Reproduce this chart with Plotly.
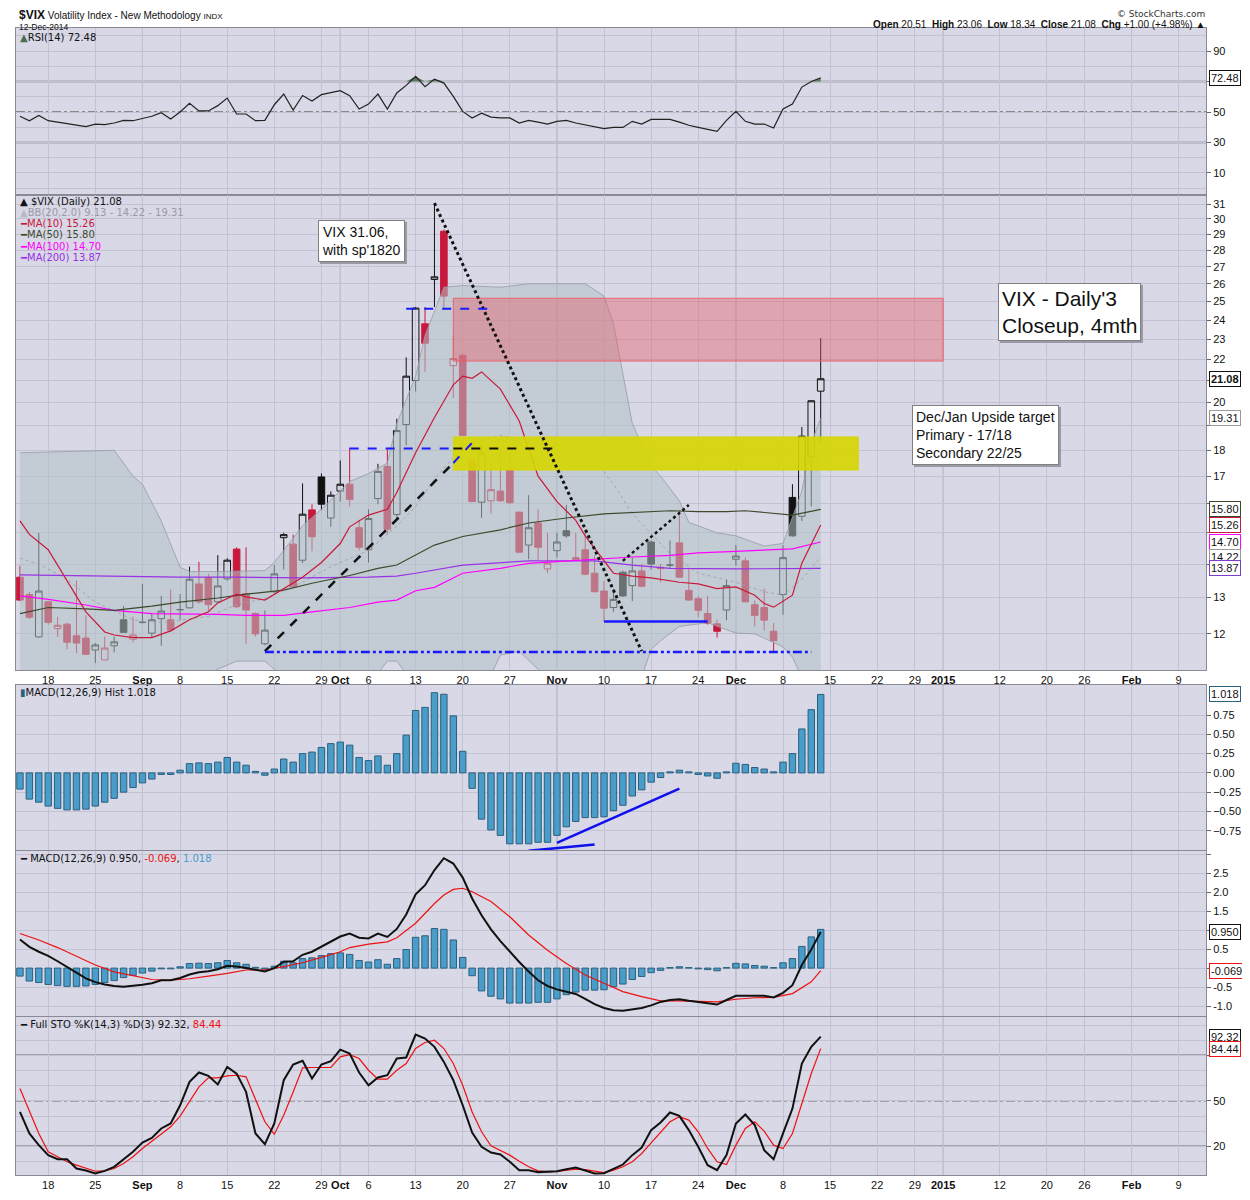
import math
import pandas as pd
import plotly.graph_objects as go

# ---- trading calendar (category axis) ----
holidays = ["2014-09-01", "2014-11-27", "2014-12-25", "2015-01-01", "2015-01-19"]
days = [d.strftime("%Y-%m-%d") for d in pd.bdate_range("2014-08-13", "2015-02-13")
        if d.strftime("%Y-%m-%d") not in holidays]

tick_days = ["2014-08-18", "2014-08-25", "2014-09-02", "2014-09-08", "2014-09-15", "2014-09-22",
             "2014-09-29", "2014-10-01", "2014-10-06", "2014-10-13", "2014-10-20", "2014-10-27",
             "2014-11-03", "2014-11-10", "2014-11-17", "2014-11-24", "2014-12-01", "2014-12-08",
             "2014-12-15", "2014-12-22", "2014-12-29", "2015-01-02", "2015-01-12", "2015-01-20",
             "2015-01-26", "2015-02-02", "2015-02-09"]
tick_text = ["18", "25", "<b>Sep</b>", "8", "15", "22", "29", "<b>Oct</b>", "6", "13", "20", "27",
             "<b>Nov</b>", "10", "17", "24", "<b>Dec</b>", "8", "15", "22", "29", "<b>2015</b>",
             "12", "20", "26", "<b>Feb</b>", "9"]
month_days = ["2014-09-02", "2014-10-01", "2014-11-03", "2014-12-01", "2015-01-02", "2015-02-02"]

# ---- daily candles, Aug 13 - Dec 12 2014 ----
opens = [13.60, 13.09, 11.92, 12.88, 12.14, 12.26, 11.95, 11.89, 11.58, 11.33,
         11.69, 12.38, 11.86, 12.31, 12.02, 12.41, 12.38, 12.66, 12.71, 13.40,
         13.59, 12.88, 13.55, 14.47, 13.12, 12.55, 11.74, 13.17, 14.84, 14.63,
         14.12, 15.78, 16.97, 15.50, 16.45, 16.70, 15.17, 14.45, 16.18, 17.37,
         15.62, 19.05, 21.00, 23.80, 26.25, 29.20, 21.70, 22.20, 17.60, 16.05,
         16.10, 16.45, 17.25, 15.70, 14.60, 15.33, 13.85, 14.42, 15.07, 14.20,
         14.45, 13.72, 13.19, 12.72, 13.75, 13.35, 13.79, 14.70, 13.90, 13.97,
         14.67, 13.21, 12.97, 12.55, 12.27, 12.65, 14.15, 14.10, 12.80, 12.72,
         12.07, 13.09, 16.22, 15.56, 17.75, 20.51]
highs = [13.95, 13.17, 15.00, 12.90, 12.46, 12.30, 13.50, 12.50, 11.76, 11.93,
         11.93, 12.76, 12.47, 13.40, 12.55, 13.05, 13.24, 13.10, 13.92, 14.07,
         13.70, 14.28, 14.18, 14.53, 14.53, 12.58, 12.64, 13.97, 15.00, 14.94,
         16.73, 15.98, 17.10, 16.44, 17.60, 18.10, 15.44, 15.80, 17.47, 18.04,
         19.30, 22.10, 24.70, 24.70, 31.06, 29.30, 23.20, 22.25, 17.65, 18.50,
         17.47, 18.04, 17.90, 15.72, 16.30, 15.80, 15.00, 15.00, 15.95, 15.00,
         15.12, 14.27, 13.49, 13.26, 13.80, 14.20, 14.00, 14.75, 14.00, 14.75,
         15.77, 13.85, 13.05, 13.05, 12.38, 13.52, 14.60, 14.20, 12.92, 13.26,
         12.29, 14.60, 16.70, 18.95, 20.10, 23.06]
lows = [12.90, 12.40, 11.90, 12.25, 11.92, 11.60, 11.50, 11.47, 11.25, 11.33,
        11.52, 12.04, 11.78, 12.28, 11.90, 11.69, 12.05, 12.38, 12.69, 12.83,
        12.64, 12.85, 13.50, 12.70, 11.74, 11.93, 11.70, 13.13, 13.83, 13.28,
        14.03, 14.40, 15.76, 15.20, 16.07, 15.90, 14.43, 14.05, 15.98, 14.94,
        15.43, 18.20, 20.50, 21.40, 24.70, 24.60, 20.20, 18.60, 16.07, 15.50,
        15.65, 16.07, 16.00, 14.37, 14.15, 14.10, 13.72, 14.20, 14.84, 14.10,
        13.66, 13.15, 12.33, 12.60, 13.02, 12.90, 13.30, 13.83, 13.45, 13.88,
        13.57, 12.92, 12.45, 12.25, 11.90, 12.37, 13.95, 12.88, 12.20, 12.09,
        11.53, 12.52, 14.87, 15.40, 15.90, 18.34]
closes = [12.93, 12.45, 13.19, 12.31, 12.23, 11.78, 11.76, 11.47, 11.71, 11.63,
          11.79, 12.04, 11.97, 12.31, 12.38, 12.62, 12.10, 12.66, 13.54, 12.88,
          12.80, 13.34, 14.12, 12.74, 12.65, 12.00, 12.10, 13.70, 14.94, 13.31,
          15.63, 14.87, 15.98, 16.30, 16.70, 16.15, 14.53, 15.48, 17.18, 15.12,
          18.80, 21.20, 24.64, 22.80, 26.40, 25.30, 22.04, 18.60, 16.07, 17.90,
          16.50, 16.10, 16.03, 14.37, 15.17, 14.53, 14.03, 14.70, 14.90, 14.15,
          13.69, 13.17, 12.70, 12.95, 13.05, 13.79, 13.33, 14.00, 13.86, 13.97,
          13.60, 12.93, 12.64, 12.29, 12.07, 13.35, 14.25, 12.88, 12.50, 12.37,
          11.82, 14.20, 14.90, 18.57, 20.08, 21.08]

# ---- overlays (read at sparse day indices) ----
ma10_at = [0, 1, 3, 5, 7, 9, 10, 12, 14, 16, 18, 20, 21, 23, 24, 26, 28, 30, 32, 34, 35, 37, 39, 40,
           42, 44, 46, 47, 48, 49, 51, 53, 54, 55, 57, 59, 60, 62, 63, 65, 67, 70, 72, 74, 76, 78,
           79, 80, 82, 83, 85]
ma10 = [15.4, 14.95, 14.45, 13.5, 12.6, 12.05, 11.97, 11.9, 11.9, 12.08, 12.38, 12.6, 12.85, 13.1,
        13.02, 12.93, 13.26, 13.6, 14.05, 14.65, 15.2, 15.6, 15.8, 16.4, 17.9, 19.35, 20.8, 21.2,
        21.1, 21.4, 20.6, 19.2, 18.05, 17.0, 16.07, 15.42, 14.9, 14.12, 13.72, 13.63, 13.58, 13.45,
        13.4, 13.26, 13.31, 13.07, 12.83, 12.73, 13.07, 14.03, 15.26]
ma50_at = [0, 3, 7, 10, 14, 17, 21, 24, 28, 31, 35, 38, 40, 42, 44, 47, 51, 54, 58, 62, 65, 69, 72,
           75, 77, 79, 82, 85]
ma50 = [12.55, 12.72, 12.68, 12.64, 12.76, 12.87, 12.99, 13.1, 13.22, 13.42, 13.65, 13.87, 13.97,
        14.27, 14.6, 14.88, 15.1, 15.33, 15.5, 15.64, 15.69, 15.75, 15.72, 15.72, 15.75, 15.68, 15.6,
        15.8]
ma100_at = [0, 3, 7, 10, 14, 17, 21, 24, 28, 31, 35, 38, 40, 42, 44, 47, 51, 54, 58, 62, 65, 69, 72,
            76, 79, 82, 85]
ma100 = [13.05, 12.95, 12.79, 12.64, 12.55, 12.55, 12.53, 12.5, 12.5, 12.6, 12.72, 12.87, 12.93,
         13.2, 13.3, 13.72, 13.87, 14.02, 14.1, 14.17, 14.22, 14.27, 14.35, 14.4, 14.43, 14.48, 14.7]
ma200_at = [0, 9, 17, 23, 30, 37, 40, 42, 47, 54, 61, 65, 69, 76, 85]
ma200 = [13.67, 13.63, 13.6, 13.6, 13.58, 13.6, 13.63, 13.72, 13.97, 14.1, 14.1, 13.97, 13.87,
         13.85, 13.87]
bb_up_at = [0, 5, 10, 12, 13, 15, 17, 18, 21, 26, 27, 28, 30, 32, 35, 37, 39, 40, 42, 43, 45, 47,
            51, 54, 60, 62, 63, 65, 67, 68, 70, 71, 74, 76, 79, 81, 83, 84, 85]
bb_up = [17.9, 17.95, 18.0, 17.0, 16.7, 15.4, 13.9, 13.77, 13.77, 13.8, 14.05, 14.43, 15.23, 15.8,
         16.8, 17.1, 17.5, 19.1, 21.2, 23.2, 25.8, 25.9, 25.8, 26.0, 26.0, 25.3, 23.8, 19.1, 17.4,
         17.0, 16.1, 15.35, 15.0, 14.9, 14.57, 14.65, 16.45, 18.3, 19.31]
bb_mid_at = [0, 2, 5, 8, 12, 15, 20, 23, 26, 30, 33, 37, 40, 42, 44, 46, 48, 51, 54, 58, 61, 63, 65,
             69, 72, 76, 79, 81, 83, 85]
bb_mid = [14.18, 14.0, 13.54, 12.87, 12.38, 12.3, 12.47, 12.8, 12.97, 13.45, 13.92, 14.43, 15.23,
          15.9, 16.9, 17.7, 18.3, 18.6, 18.4, 18.2, 17.6, 16.7, 15.65, 14.33, 13.72, 13.45, 13.17,
          13.07, 13.54, 14.22]
bb_lo_at = [0, 10, 20, 23, 26, 28, 32, 36, 38, 39, 40, 41, 43, 46, 49, 51, 53, 55, 58, 62, 66, 67,
            68, 70, 73, 74, 76, 78, 81, 82, 83, 85]
bb_lo = [10.6, 10.7, 11.0, 11.3, 11.3, 10.9, 10.5, 10.7, 11.0, 11.3, 11.3, 11.0, 10.0, 8.5, 10.5,
         11.45, 11.55, 11.1, 10.3, 10.0, 10.9, 11.6, 11.82, 12.2, 12.3, 12.2, 12.02, 12.0, 11.66,
         11.4, 10.9, 9.13]

# ---- indicators ----
rsi = [47.2, 44.3, 47.8, 44.3, 43.4, 42.4, 41.5, 40.4, 42.1, 41.7, 42.8, 44.5, 44.3, 45.8, 47.2,
       49.6, 45.4, 50.0, 55.7, 50.7, 50.7, 54.2, 59.2, 48.7, 48.7, 44.3, 44.5, 54.8, 61.8, 51.3,
       60.9, 57.2, 61.4, 62.7, 64.0, 60.7, 52.0, 55.2, 61.8, 52.0, 62.5, 67.5, 73.4, 66.6, 71.6,
       69.0, 60.3, 50.4, 46.1, 49.3, 46.7, 46.1, 46.1, 42.8, 44.5, 43.4, 42.1, 43.9, 44.5, 42.8,
       41.7, 40.4, 39.1, 39.9, 39.9, 43.9, 42.1, 45.2, 45.0, 45.2, 43.4, 41.3, 39.9, 38.4, 37.3,
       44.5, 50.4, 43.9, 42.1, 42.1, 39.5, 52.0, 55.2, 66.4, 70.1, 72.48]
macd_hist = [-0.21, -0.34, -0.38, -0.43, -0.46, -0.48, -0.48, -0.47, -0.43, -0.38, -0.33, -0.25,
             -0.19, -0.13, -0.08, -0.02, -0.02, 0.035, 0.12, 0.13, 0.12, 0.14, 0.20, 0.14, 0.10,
             0.02, -0.03, 0.05, 0.18, 0.14, 0.25, 0.27, 0.33, 0.38, 0.40, 0.36, 0.20, 0.16, 0.22,
             0.10, 0.25, 0.49, 0.81, 0.85, 1.04, 1.02, 0.74, 0.28, -0.20, -0.60, -0.74, -0.81,
             -0.92, -0.92, -0.92, -0.90, -0.90, -0.81, -0.70, -0.63, -0.58, -0.58, -0.57, -0.49,
             -0.42, -0.30, -0.22, -0.12, -0.06, 0.013, 0.035, 0.013, -0.02, -0.04, -0.07, 0.013,
             0.125, 0.11, 0.07, 0.05, 0.013, 0.14, 0.25, 0.57, 0.82, 1.018]
macd_line = [0.75, 0.56, 0.43, 0.32, 0.18, 0.04, -0.12, -0.27, -0.37, -0.43, -0.47, -0.49, -0.47,
             -0.44, -0.40, -0.32, -0.32, -0.26, -0.17, -0.11, -0.08, -0.03, 0.06, 0.04, 0.0,
             -0.04, -0.09, 0.0, 0.17, 0.18, 0.35, 0.43, 0.56, 0.68, 0.83, 0.91, 0.80, 0.78, 0.91,
             0.82, 1.03, 1.41, 1.94, 2.18, 2.58, 2.89, 2.75, 2.38, 1.83, 1.39, 1.02, 0.71, 0.42,
             0.16, -0.09, -0.32, -0.47, -0.56, -0.62, -0.68, -0.81, -0.95, -1.05, -1.11, -1.12,
             -1.09, -1.05, -0.98, -0.89, -0.84, -0.82, -0.86, -0.89, -0.93, -0.96, -0.84, -0.73,
             -0.73, -0.73, -0.73, -0.77, -0.65, -0.45, 0.08, 0.49, 0.95]
signal_at = [0, 2, 4, 6, 8, 10, 12, 14, 16, 18, 20, 22, 24, 26, 28, 30, 32, 34, 35, 37, 39, 40, 42,
             44, 45, 46, 47, 48, 50, 52, 54, 56, 58, 60, 62, 64, 66, 68, 70, 72, 74, 76, 78, 80,
             82, 84, 85]
signal_line = [0.91, 0.74, 0.54, 0.30, 0.08, -0.10, -0.21, -0.30, -0.32, -0.28, -0.21, -0.14,
               -0.05, -0.05, 0.04, 0.14, 0.28, 0.43, 0.54, 0.63, 0.69, 0.80, 1.18, 1.70, 1.92,
               2.07, 2.10, 2.01, 1.75, 1.35, 0.87, 0.47, 0.12, -0.18, -0.40, -0.62, -0.75, -0.86,
               -0.86, -0.87, -0.89, -0.82, -0.78, -0.77, -0.67, -0.36, -0.069]
sto_k = [42.7, 28.5, 20.8, 14.2, 11.5, 11.5, 5.4, 4.1, 2.1, 3.8, 6.5, 11.3, 16.4, 22.5, 25.6,
         31.8, 35.1, 47.1, 62.5, 68.7, 66.5, 60.8, 72.4, 68.0, 55.9, 28.5, 21.4, 35.1, 63.6, 74.0,
         76.4, 64.7, 74.0, 76.2, 83.8, 81.2, 68.7, 60.3, 65.4, 66.9, 77.9, 78.6, 93.7, 91.1, 85.6,
         75.7, 63.6, 47.1, 29.1, 19.7, 15.9, 14.6, 9.8, 4.3, 4.3, 3.0, 3.2, 3.6, 4.9, 6.0, 4.1,
         2.1, 2.3, 5.4, 8.0, 14.2, 19.2, 30.7, 35.7, 42.3, 40.1, 30.7, 19.7, 7.6, 4.3, 14.2, 35.1,
         41.0, 34.0, 17.5, 11.5, 28.5, 44.9, 74.6, 85.6, 92.32]
sto_d = [58.1, 42.7, 28.5, 16.4, 13.1, 9.8, 7.6, 5.4, 3.6, 3.8, 5.4, 8.7, 13.1, 18.6, 23.4, 27.8,
         32.9, 39.9, 49.3, 59.2, 65.2, 65.2, 66.5, 66.9, 65.8, 50.4, 36.2, 28.0, 40.5, 55.9, 71.8,
         72.0, 72.0, 72.0, 79.0, 80.5, 77.9, 70.2, 64.3, 64.3, 70.2, 74.6, 84.5, 88.5, 90.0, 84.5,
         74.6, 60.3, 42.7, 29.6, 20.3, 17.5, 14.2, 10.2, 6.5, 3.8, 3.2, 3.4, 4.3, 4.9, 4.7, 3.8,
         2.7, 4.3, 6.5, 9.8, 15.3, 22.3, 29.6, 36.2, 39.5, 37.3, 29.6, 18.6, 9.8, 8.0, 20.8, 31.8,
         36.2, 30.0, 20.8, 18.6, 28.5, 48.2, 68.0, 84.44]

# ---- hand-drawn annotations (dates, levels) ----
drop_line = (["2014-10-15", "2014-11-14"], [31.06, 11.55])
rise_line = (["2014-09-19", "2014-10-17"], [11.55, 17.5])
rise_tail = (["2014-10-17", "2014-10-21"], [17.5, 18.3])
nov_dotted = (["2014-11-12", "2014-11-21"], [14.1, 15.95])
top_level = (["2014-10-10", "2014-10-23"], [24.6, 24.6])
mid_level_blue = (["2014-10-02", "2014-10-17"], [18.07, 18.07])
mid_level_black = (["2014-10-17", "2014-11-03"], [18.07, 18.07])
nov_floor = (["2014-11-10", "2014-11-25"], [12.33, 12.33])
base_floor = (["2014-09-19", "2014-12-11"], [11.53, 11.53])
pink_zone = ("2014-10-17", "2015-01-02", 21.92, 25.18)
yellow_zone = ("2014-10-17", "2014-12-18", 17.23, 18.54)
hist_div_1 = (["2014-11-03", "2014-11-20"], [-0.907, -0.203])
hist_div_2 = (["2014-10-29", "2014-11-07"], [-1.01, -0.93])

RED = "#c8193c"
BG = "#d8d8e6"
GRID = "#c2c2d2"
MONTH = "#a6a6b6"
AXLINE = "#8a8a96"
HBLUE = "#4a9cc9"
N = len(closes)


def at(idx):
    return [days[i] for i in idx]


fig = go.Figure()

# ---------------- price panel ----------------
fig.add_trace(go.Scatter(x=at(bb_lo_at), y=bb_lo, mode="lines", xaxis="x2", yaxis="y2",
                         line=dict(color="rgba(150,155,165,0.8)", width=1), hoverinfo="skip"))
fig.add_trace(go.Scatter(x=at(bb_up_at), y=bb_up, mode="lines", xaxis="x2", yaxis="y2",
                         fill="tonexty", fillcolor="rgba(178,194,196,0.55)",
                         line=dict(color="rgba(150,155,165,0.8)", width=1), hoverinfo="skip"))
fig.add_trace(go.Scatter(x=at(bb_mid_at), y=bb_mid, mode="lines", xaxis="x2", yaxis="y2",
                         line=dict(color="rgba(160,160,170,0.9)", width=1, dash="dot")))
for at_idx, vals, col in [(ma200_at, ma200, "#9932e6"), (ma100_at, ma100, "#ff00ff"),
                          (ma50_at, ma50, "#3c4a2c"), (ma10_at, ma10, RED)]:
    fig.add_trace(go.Scatter(x=at(at_idx), y=vals, mode="lines", xaxis="x2", yaxis="y2",
                             line=dict(color=col, width=1.2)))

down = [True] + [closes[i] < closes[i - 1] for i in range(1, N)]
for is_down, col in [(False, "#111111"), (True, RED)]:
    sel = [i for i in range(N) if down[i] == is_down]
    fig.add_trace(go.Candlestick(
        x=[days[i] for i in sel], open=[opens[i] for i in sel], high=[highs[i] for i in sel],
        low=[lows[i] for i in sel], close=[closes[i] for i in sel],
        increasing=dict(line=dict(color=col, width=1), fillcolor="rgba(0,0,0,0)"),
        decreasing=dict(line=dict(color=col, width=1), fillcolor=col),
        whiskerwidth=0, xaxis="x2", yaxis="y2", showlegend=False))

for (z0, z1, lo, hi), fc, lc in [(pink_zone, "rgba(234,88,100,0.40)", "rgba(240,90,100,0.9)"),
                                 (yellow_zone, "rgba(214,214,0,0.90)", "rgba(214,214,0,0.9)")]:
    fig.add_trace(go.Scatter(x=[z0, z1, z1, z0, z0], y=[lo, lo, hi, hi, lo], mode="lines",
                             fill="toself", fillcolor=fc, line=dict(color=lc, width=1),
                             xaxis="x2", yaxis="y2", hoverinfo="skip"))

for (xs, ys), col, dash, w in [
        (drop_line, "#111111", "dot", 3), (rise_line, "#111111", "dash", 2.5),
        (rise_tail, "#1a1aff", "dash", 2), (nov_dotted, "#111111", "dot", 2.5),
        (top_level, "#1a1aff", "dash", 2), (mid_level_blue, "#1a1aff", "dash", 2),
        (mid_level_black, "#111111", "dash", 2), (nov_floor, "#1a1aff", "solid", 2.5),
        (base_floor, "#1a1aff", "9px,3px,3px,3px,3px,3px", 2.5)]:
    fig.add_trace(go.Scatter(x=xs, y=ys, mode="lines", xaxis="x2", yaxis="y2",
                             line=dict(color=col, width=w, dash=dash)))

# ---------------- RSI panel ----------------
fig.add_trace(go.Scatter(x=days[:N], y=[70] * N, mode="lines", line=dict(width=0),
                         xaxis="x", yaxis="y", hoverinfo="skip"))
fig.add_trace(go.Scatter(x=days[:N], y=[max(v, 70) for v in rsi], mode="lines",
                         line=dict(width=0), fill="tonexty", fillcolor="#5b7a5e",
                         xaxis="x", yaxis="y", hoverinfo="skip"))
fig.add_trace(go.Scatter(x=days[:len(rsi)], y=rsi, mode="lines", xaxis="x", yaxis="y",
                         line=dict(color="#222222", width=1.2)))

# ---------------- MACD histogram panel ----------------
fig.add_trace(go.Bar(x=days[:len(macd_hist)], y=macd_hist, xaxis="x3", yaxis="y3", width=0.68,
                     marker=dict(color=HBLUE, line=dict(color="#2b607f", width=1))))
for xs, ys in [hist_div_1, hist_div_2]:
    fig.add_trace(go.Scatter(x=xs, y=ys, mode="lines", xaxis="x3", yaxis="y3",
                             line=dict(color="#1010ee", width=2.5)))

# ---------------- MACD panel ----------------
fig.add_trace(go.Bar(x=days[:len(macd_hist)], y=macd_hist, xaxis="x4", yaxis="y4", width=0.68,
                     marker=dict(color=HBLUE, line=dict(color="#2b607f", width=1))))
fig.add_trace(go.Scatter(x=at(signal_at), y=signal_line, mode="lines", xaxis="x4", yaxis="y4",
                         line=dict(color="#ee1111", width=1.2)))
fig.add_trace(go.Scatter(x=days[:len(macd_line)], y=macd_line, mode="lines", xaxis="x4",
                         yaxis="y4", line=dict(color="#111111", width=2)))

# ---------------- Full STO panel ----------------
fig.add_trace(go.Scatter(x=days[:len(sto_d)], y=sto_d, mode="lines", xaxis="x5", yaxis="y5",
                         line=dict(color="#ee1111", width=1.2)))
fig.add_trace(go.Scatter(x=days[:len(sto_k)], y=sto_k, mode="lines", xaxis="x5", yaxis="y5",
                         line=dict(color="#111111", width=2)))

# ---------------- axes ----------------
# the page body adds an 8px offset, so the figure is sized to end at the window edge
OFF = 8
W, H = 1242, 1192
ML, MR, MT, MB = 8, 44, 20, 25


def px_x(px):
    return (px - OFF - ML) / (W - ML - MR)


def px_y(py):
    return (H - MB - (py - OFF)) / (H - MT - MB)


panels = [("", 28, 195), ("2", 195, 670), ("3", 685, 850), ("4", 851, 1016), ("5", 1017, 1175)]
tickfont = dict(family="Liberation Sans, Arial", size=11, color="#111111")
layout = dict(width=W, height=H, margin=dict(l=ML, r=MR, t=MT, b=MB),
              paper_bgcolor="white", plot_bgcolor=BG, showlegend=False, bargap=0.3,
              boxgap=0.2, boxgroupgap=0.125,
              font=dict(family="Liberation Sans, Arial", size=11, color="#111111"))
for s, top, bot in panels:
    layout["xaxis" + s] = dict(
        type="category", categoryorder="array", categoryarray=days, range=[-0.42, 125.9],
        tickvals=tick_days, ticktext=tick_text, showgrid=True, gridcolor=GRID, gridwidth=1,
        showline=True, linecolor=AXLINE, mirror=True, ticks="", zeroline=False,
        showticklabels=s in ("2", "5"), tickfont=tickfont, anchor="y" + s,
        rangeslider=dict(visible=False), domain=[0, 1])
    if s:
        layout["xaxis" + s]["matches"] = "x"
    layout["yaxis" + s] = dict(
        domain=[px_y(bot), px_y(top)], anchor="x" + s, side="right", showline=True,
        linecolor=AXLINE, mirror=True, ticks="outside", ticklen=4, tickcolor="#666666",
        gridcolor=GRID, zeroline=False, tickfont=tickfont, fixedrange=True)

# labels hidden behind the value callouts are left blank
layout["yaxis"].update(range=[-4.5, 105.2], tickvals=[10, 30, 50, 70, 90],
                       ticktext=["10", "30", "50", "", "90"],
                       minor=dict(tickmode="linear", tick0=0, dtick=10, showgrid=True,
                                  gridcolor=GRID))
price_ticks = list(range(11, 32))
layout["yaxis2"].update(type="log", range=[math.log10(11.08), math.log10(31.63)],
                        tickvals=price_ticks,
                        ticktext=["" if v in (11, 14, 15, 16, 19, 21) else str(v)
                                  for v in price_ticks])
layout["yaxis3"].update(range=[-1.0, 1.14], tickvals=[-0.75, -0.5, -0.25, 0, 0.25, 0.5, 0.75],
                        tickformat=".2f")
layout["yaxis4"].update(range=[-1.26, 3.08], tickvals=[-1, -0.5, 0, 0.5, 1, 1.5, 2, 2.5, 3],
                        ticktext=["-1.0", "-0.5", "", "0.5", "", "1.5", "2.0", "2.5", ""])
layout["yaxis5"].update(range=[1.1, 105.3], tickvals=[20, 50, 80], ticktext=["20", "50", ""],
                        minor=dict(tickmode="linear", tick0=0, dtick=10, showgrid=True,
                                   gridcolor=GRID))
fig.update_layout(**layout)

# month separators and reference levels
shapes = []
for s, _, _ in panels:
    for d in month_days:
        shapes.append(dict(type="line", xref="x" + s, yref="y" + s + " domain", x0=d, x1=d,
                           y0=0, y1=1, line=dict(color=MONTH, width=1), layer="below"))
for s, lvl, dash in [("", 70, "solid"), ("", 30, "solid"), ("", 50, "dashdot"),
                     ("5", 80, "solid"), ("5", 20, "solid"), ("5", 50, "dashdot")]:
    shapes.append(dict(type="line", xref="x" + s + " domain", yref="y" + s, x0=0, x1=1,
                       y0=lvl, y1=lvl, line=dict(color="#6e6e6e", width=1.5, dash=dash),
                       layer="below"))
fig.update_layout(shapes=shapes)

# ---------------- text ----------------
ann = []


def label(py, text, color="#111111"):
    ann.append(dict(xref="paper", yref="paper", x=px_x(18), y=px_y(py), xanchor="left",
                    yanchor="middle", showarrow=False, text=text,
                    font=dict(family="DejaVu Sans", size=10, color=color)))


label(38, "<span style='color:#4c6b4f'>▲</span>RSI(14) 72.48")
label(202, "<b>▲</b> $VIX (Daily) 21.08")
label(213, "<span style='color:#b9b9c4'>▲</span>BB(20,2.0) 9.13 - 14.22 - 19.31", "#9a9aa6")
label(224, "━MA(10) 15.26", RED)
label(235, "━MA(50) 15.80", "#3c4a2c")
label(246, "━MA(100) 14.70", "#ff00ff")
label(257, "━MA(200) 13.87", "#9932e6")
label(692, "<span style='color:#2b607f'>▮</span>MACD(12,26,9) Hist 1.018")
label(858, "━ MACD(12,26,9) 0.950, <span style='color:#ee1111'>-0.069</span>, "
           "<span style='color:#4a9cc9'>1.018</span>")
label(1024, "━ Full STO %K(14,3) %D(3) 92.32, <span style='color:#ee1111'>84.44</span>")


def callout(yref, y, text, border, bold=False):
    ann.append(dict(xref="paper", yref=yref, x=1.0, y=y, xanchor="left", yanchor="middle",
                    xshift=3, showarrow=False, text="<b>%s</b>" % text if bold else text,
                    bgcolor="white", bordercolor=border, borderwidth=1, borderpad=1,
                    font=dict(family="Liberation Sans, Arial", size=11, color="#111111")))


callout("y", 72.48, "72.48", "#111111")
for v, col, b in [(21.08, "#111111", True), (19.31, "#9a9a9a", False), (15.80, "#3c4a2c", False),
                  (15.26, RED, False), (14.70, "#ff00ff", False), (14.22, "#9a9a9a", False),
                  (13.87, "#7a3fd0", False)]:
    callout("y2", math.log10(v), "%.2f" % v, col, b)
callout("y3", 1.018, "1.018", "#2b607f")
callout("y4", 0.950, "0.950", "#111111")
callout("y4", -0.069, "-0.069", "#ee1111")
callout("y5", 92.32, "92.32", "#111111")
callout("y5", 84.44, "84.44", "#ee1111")

# note boxes, each with a small drop shadow
for px, py, text, size in [(318, 220, "VIX 31.06,<br>with sp'1820", 14),
                           (998, 283, "VIX - Daily'3<br>Closeup, 4mth", 21),
                           (912, 405, "Dec/Jan Upside target<br>Primary - 17/18<br>Secondary 22/25",
                            14)]:
    for shift, bg, fg, border in [(2, "#9a9aa4", "#9a9aa4", "#9a9aa4"),
                                  (0, "white", "#111111", "#808080")]:
        ann.append(dict(xref="paper", yref="paper", x=px_x(px), y=px_y(py), xanchor="left",
                        yanchor="top", showarrow=False, text=text, align="left",
                        xshift=shift, yshift=-shift,
                        bgcolor=bg, bordercolor=border, borderwidth=1, borderpad=3,
                        font=dict(family="Liberation Sans, Arial", size=size, color=fg)))

# header
ann.append(dict(xref="paper", yref="paper", x=px_x(17), y=px_y(15), xanchor="left",
                yanchor="middle", showarrow=False,
                text="<span style='font-size:12px'><b>$VIX</b></span> Volatility Index - New "
                     "Methodology <span style='font-size:8px'>INDX</span>",
                font=dict(family="Liberation Sans, Arial", size=10, color="#111111")))
ann.append(dict(xref="paper", yref="paper", x=px_x(17), y=px_y(26.5), xanchor="left",
                yanchor="middle", showarrow=False, text="12-Dec-2014",
                font=dict(family="Liberation Sans, Arial", size=8.5, color="#111111")))
ann.append(dict(xref="paper", yref="paper", x=px_x(1207), y=px_y(14), xanchor="right",
                yanchor="middle", showarrow=False, text="© StockCharts.com",
                font=dict(family="DejaVu Sans", size=9, color="#333333")))
ann.append(dict(xref="paper", yref="paper", x=px_x(1207), y=px_y(24), xanchor="right",
                yanchor="middle", showarrow=False,
                text="<b>Open</b> 20.51  <b>High</b> 23.06  <b>Low</b> 18.34  <b>Close</b> 21.08  "
                     "<b>Chg</b> +1.00 (+4.98%) ▲",
                font=dict(family="Liberation Sans, Arial", size=10, color="#111111")))
fig.update_layout(annotations=ann)

fig.write_html("out.html")
